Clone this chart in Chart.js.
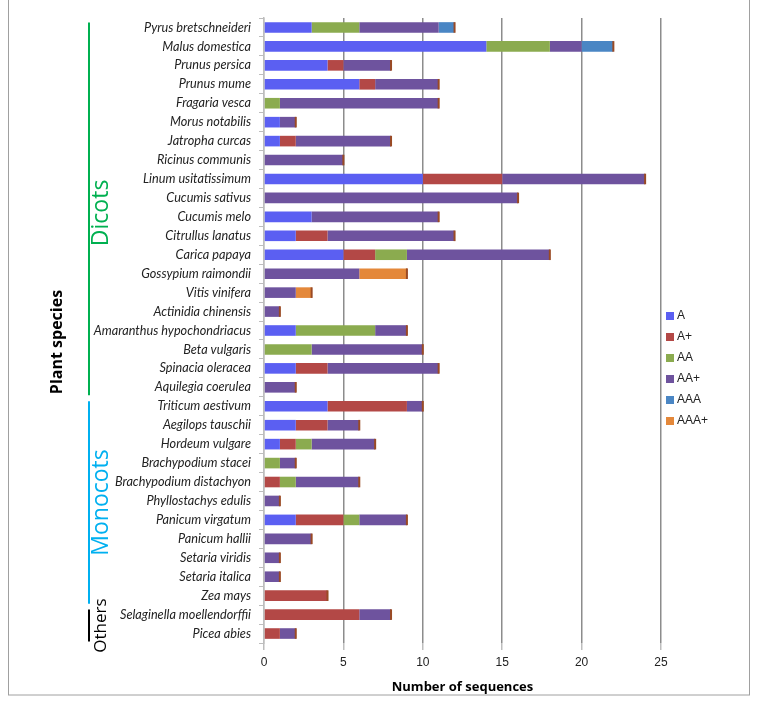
<!DOCTYPE html>
<html>
<head>
<meta charset="utf-8">
<script src="https://cdn.jsdelivr.net/npm/chart.js@4/dist/chart.umd.min.js"></script>
<style>
  body { margin: 0; background: #fff; }
  #wrap { width: 758px; height: 701px; }
</style>
</head>
<body>
<div id="wrap"><canvas id="speciesChart" width="758" height="701"></canvas></div>
<script>
// species, top to bottom
const species = [
    'Pyrus bretschneideri', 'Malus domestica', 'Prunus persica', 'Prunus mume', 'Fragaria vesca',
    'Morus notabilis', 'Jatropha curcas', 'Ricinus communis', 'Linum usitatissimum', 'Cucumis sativus',
    'Cucumis melo', 'Citrullus lanatus', 'Carica papaya', 'Gossypium raimondii', 'Vitis vinifera',
    'Actinidia chinensis', 'Amaranthus hypochondriacus', 'Beta vulgaris', 'Spinacia oleracea', 'Aquilegia coerulea',
    'Triticum aestivum', 'Aegilops tauschii', 'Hordeum vulgare', 'Brachypodium stacei', 'Brachypodium distachyon',
    'Phyllostachys edulis', 'Panicum virgatum', 'Panicum hallii', 'Setaria viridis', 'Setaria italica',
    'Zea mays', 'Selaginella moellendorffii', 'Picea abies'
];

const seriesNames = ['A', 'A+', 'AA', 'AA+', 'AAA', 'AAA+'];
const seriesColors = ['#5b5ff2', '#b34846', '#8bab4f', '#6e539e', '#4a86c4', '#e4883a'];

const valA     = [3, 14, 4, 6, 0, 1, 1, 0, 10, 0, 3, 2, 5, 0, 0, 0, 2, 0, 2, 0, 4, 2, 1, 0, 0, 0, 2, 0, 0, 0, 0, 0, 0];
const valAp    = [0, 0, 1, 1, 0, 0, 1, 0, 5, 0, 0, 2, 2, 0, 0, 0, 0, 0, 2, 0, 5, 2, 1, 0, 1, 0, 3, 0, 0, 0, 4, 6, 1];
const valAA    = [3, 4, 0, 0, 1, 0, 0, 0, 0, 0, 0, 0, 2, 0, 0, 0, 5, 3, 0, 0, 0, 0, 1, 1, 1, 0, 1, 0, 0, 0, 0, 0, 0];
const valAAp   = [5, 2, 3, 4, 10, 1, 6, 5, 9, 16, 8, 8, 9, 6, 2, 1, 2, 7, 7, 2, 1, 2, 4, 1, 4, 1, 3, 3, 1, 1, 0, 2, 1];
const valAAA   = [1, 2, 0, 0, 0, 0, 0, 0, 0, 0, 0, 0, 0, 0, 0, 0, 0, 0, 0, 0, 0, 0, 0, 0, 0, 0, 0, 0, 0, 0, 0, 0, 0];
const valAAAp  = [0, 0, 0, 0, 0, 0, 0, 0, 0, 0, 0, 0, 0, 3, 1, 0, 0, 0, 0, 0, 0, 0, 0, 0, 0, 0, 0, 0, 0, 0, 0, 0, 0];

const xTicks = [0, 5, 10, 15, 20, 25];

// groups by index range (first, last)
const groups = [
    { name: 'Dicots', first: 0, last: 19, color: '#00b050', size: 23 },
    { name: 'Monocots', first: 20, last: 30, color: '#00b0f0', size: 23 },
    { name: 'Others', first: 31, last: 32, color: '#000000', size: 17 }
];

const allValues = [valA, valAp, valAA, valAAp, valAAA, valAAAp];

// Draw bar end caps, group brackets, axis title, legend and frame
const decorPlugin = {
    id: 'decor',
    afterDatasetsDraw(chart) {
        // little dark cap on the end of each stacked bar (3D look)
        const ctx = chart.ctx;
        const x = chart.scales.x;
        const y = chart.scales.y;
        const bar = chart.getDatasetMeta(0).data[0];
        const h = bar ? bar.height : 10;
        ctx.save();
        species.forEach((s, i) => {
            const total = allValues.reduce((sum, arr) => sum + arr[i], 0);
            const px = x.getPixelForValue(total);
            const py = y.getPixelForValue(i);
            ctx.fillStyle = '#9a4a24';
            ctx.fillRect(px - 1, py - h / 2, 2, h);
        });
        ctx.restore();
    },
    afterDraw(chart) {
        const ctx = chart.ctx;
        const y = chart.scales.y;
        ctx.save();

        // frame
        ctx.strokeStyle = '#a0a0a0';
        ctx.lineWidth = 1;
        ctx.strokeRect(8.5, -1, 741, 696);

        // y axis title
        ctx.save();
        ctx.translate(57, 342);
        ctx.rotate(-Math.PI / 2);
        ctx.fillStyle = '#000';
        ctx.font = 'bold 16px "Open Sans", sans-serif';
        ctx.textAlign = 'center';
        ctx.textBaseline = 'middle';
        ctx.fillText('Plant species', 0, 0);
        ctx.restore();

        // group brackets
        groups.forEach(g => {
            const y0 = y.getPixelForValue(g.first) - 5;
            const y1 = y.getPixelForValue(g.last) + 8;
            ctx.strokeStyle = g.color;
            ctx.lineWidth = 2;
            ctx.beginPath();
            ctx.moveTo(89, y0);
            ctx.lineTo(89, y1);
            ctx.stroke();
            ctx.save();
            ctx.translate(101, (y0 + y1) / 2 + (g.name === 'Dicots' ? 4 : 0));
            ctx.rotate(-Math.PI / 2);
            ctx.fillStyle = g.color;
            ctx.font = g.size + 'px "Open Sans", sans-serif';
            ctx.textAlign = 'center';
            ctx.textBaseline = 'middle';
            ctx.fillText(g.name, 0, 0);
            ctx.restore();
        });

        // legend
        ctx.font = '12px "Liberation Sans", Arial, sans-serif';
        ctx.textBaseline = 'middle';
        ctx.textAlign = 'left';
        chart.data.datasets.forEach((ds, i) => {
            const ly = 316 + i * 21;
            ctx.fillStyle = ds.backgroundColor;
            ctx.fillRect(666, ly - 4, 8, 8);
            ctx.fillStyle = '#222';
            ctx.fillText(ds.label, 677, ly);
        });

        ctx.restore();
    }
};

const ctx = document.getElementById('speciesChart').getContext('2d');
const speciesChart = new Chart(ctx, {
    type: 'bar',
    data: {
        labels: species,
        datasets: seriesNames.map((name, i) => ({
            label: name,
            data: allValues[i],
            backgroundColor: seriesColors[i],
            borderWidth: 0,
            barPercentage: 0.56,
            categoryPercentage: 1
        }))
    },
    options: {
        indexAxis: 'y',
        responsive: false,
        animation: false,
        layout: { padding: { top: 18, right: 97, bottom: 4, left: 0 } },
        plugins: {
            legend: { display: false },
            tooltip: { enabled: false }
        },
        scales: {
            x: {
                stacked: true,
                min: 0,
                max: 25,
                afterBuildTicks: (scale) => { scale.ticks = xTicks.map(v => ({ value: v })); },
                afterFit: (scale) => { scale.height = 54; },
                border: { display: false },
                grid: {
                    color: (c) => c.tick && c.tick.value === 0 ? '#bdbdbd' : '#8c8c8c',
                    lineWidth: 1.5,
                    tickLength: 7,
                    tickColor: '#bdbdbd'
                },
                ticks: {
                    color: '#222',
                    padding: 5,
                    font: { size: 12, family: '"Liberation Sans", Arial, sans-serif' }
                },
                title: {
                    display: true,
                    text: 'Number of sequences',
                    color: '#000',
                    padding: { top: 4, bottom: 2 },
                    font: { size: 13, weight: 'bold', family: '"Open Sans", sans-serif' }
                }
            },
            y: {
                stacked: true,
                afterFit: (scale) => { scale.width = 264; },
                border: { display: true, color: '#bdbdbd', width: 1.5 },
                grid: {
                    drawOnChartArea: false,
                    tickLength: 5,
                    tickColor: '#bdbdbd'
                },
                ticks: {
                    color: '#222',
                    padding: 8,
                    autoSkip: false,
                    font: { size: 12.7, style: 'italic', family: 'Lato, sans-serif' }
                }
            }
        }
    },
    plugins: [decorPlugin]
});
</script>
</body>
</html>
